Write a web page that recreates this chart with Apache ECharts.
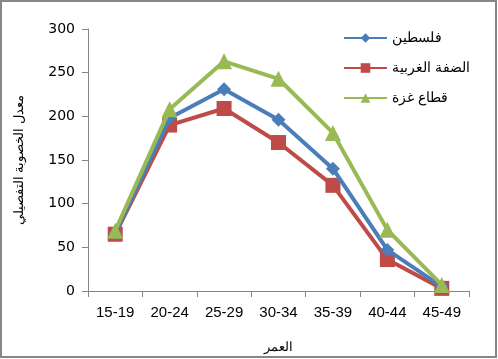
<!DOCTYPE html>
<html><head><meta charset="utf-8">
<script src="https://cdn.jsdelivr.net/npm/echarts@6/dist/echarts.min.js"></script>
<style>html,body{margin:0;padding:0;background:#fff}#c{width:498px;height:359px}</style>
</head><body><div id="c"></div>
<script>
const categories = ['15-19','20-24','25-29','30-34','35-39','40-44','45-49'];
const palestine = [66, 198, 231, 196, 140, 47, 5];
const westBank = [65, 190, 209, 170, 121, 36, 3];
const gaza = [69, 208, 263, 243, 181, 70, 7];
const yTicks = [0, 50, 100, 150, 200, 250, 300];
const seriesNames = ['فلسطين', 'الضفة الغربية', 'قطاع غزة'];

const chart = echarts.init(document.getElementById('c'));
const axisColor = '#868686';
chart.setOption({
  animation: false,
  graphic: [{type: 'rect', shape: {x: 1, y: 1, width: 495, height: 356},
    style: {fill: 'none', stroke: '#868686', lineWidth: 2}, silent: true}],
  grid: {left: 88, right: 29, top: 29, bottom: 67},
  legend: {
    orient: 'vertical', left: 338, top: 26, itemGap: 16,
    itemWidth: 43, itemHeight: 12,
    textStyle: {fontFamily: 'Liberation Sans', fontSize: 14, color: '#000'},
    data: seriesNames
  },
  xAxis: {
    type: 'category', data: categories, boundaryGap: true,
    name: 'العمر', nameLocation: 'middle', nameGap: 50,
    nameTextStyle: {fontFamily: 'Liberation Sans', fontSize: 13, color: '#000'},
    axisLine: {lineStyle: {color: axisColor, width: 1}},
    axisTick: {show: true, length: 6, lineStyle: {color: axisColor}},
    axisLabel: {fontFamily: 'Liberation Sans', fontSize: 15, color: '#000', margin: 14, interval: 0}
  },
  yAxis: {
    type: 'value', min: 0, max: 300, interval: 50,
    name: 'معدل الخصوبة التفصيلي', nameLocation: 'middle', nameGap: 62, nameRotate: 90,
    nameTextStyle: {fontFamily: 'Liberation Sans', fontSize: 13, color: '#000'},
    axisLine: {show: true, lineStyle: {color: axisColor, width: 1}},
    axisTick: {show: true, length: 6, lineStyle: {color: axisColor}},
    splitLine: {show: false},
    axisLabel: {fontFamily: 'DejaVu Sans', fontSize: 14, color: '#000', margin: 13,
      formatter: v => yTicks.includes(v) ? String(v) : ''}
  },
  series: [
    {name: seriesNames[0], type: 'line', data: palestine, symbol: 'diamond', symbolSize: 14,
     lineStyle: {width: 4, color: '#4a7ebb'}, itemStyle: {color: '#4a7ebb'}, z: 3},
    {name: seriesNames[1], type: 'line', data: westBank, symbol: 'rect', symbolSize: 15,
     lineStyle: {width: 4, color: '#be4b48'}, itemStyle: {color: '#be4b48'}, z: 2},
    {name: seriesNames[2], type: 'line', data: gaza, symbol: 'triangle', symbolSize: 16,
     lineStyle: {width: 4, color: '#98b954'}, itemStyle: {color: '#98b954'}, z: 4}
  ]
});
</script></body></html>
